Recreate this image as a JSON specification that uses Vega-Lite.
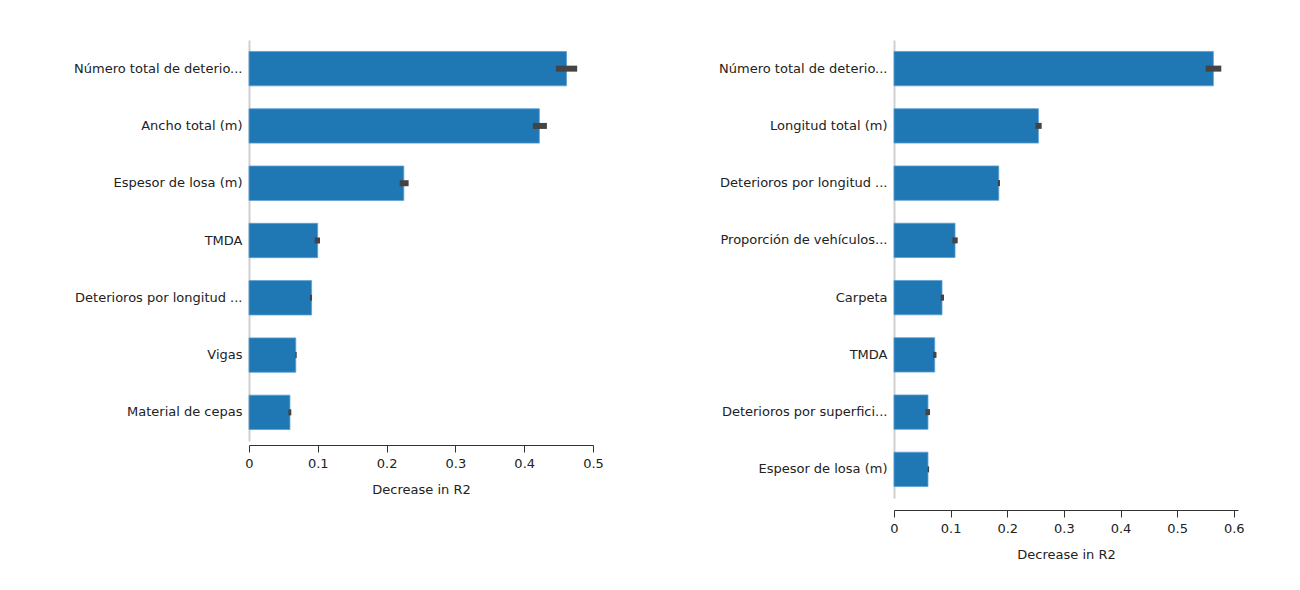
{
  "$schema": "https://vega.github.io/schema/vega-lite/v6.json",
  "background": "white",
  "padding": {"left": 73, "top": 40, "right": 5, "bottom": 5},
  "spacing": 114,
  "datasets": {
    "left": [
      {"feature": "Número total de deterio...", "order": 1, "value": 0.4615, "lo": 0.446, "hi": 0.477},
      {"feature": "Ancho total (m)", "order": 2, "value": 0.422, "lo": 0.4126, "hi": 0.433},
      {"feature": "Espesor de losa (m)", "order": 3, "value": 0.225, "lo": 0.219, "hi": 0.232},
      {"feature": "TMDA", "order": 4, "value": 0.0998, "lo": 0.0954, "hi": 0.1032},
      {"feature": "Deterioros por longitud ...", "order": 5, "value": 0.091, "lo": 0.0885, "hi": 0.0915},
      {"feature": "Vigas", "order": 6, "value": 0.068, "lo": 0.0672, "hi": 0.0693},
      {"feature": "Material de cepas", "order": 7, "value": 0.0595, "lo": 0.0572, "hi": 0.0615}
    ],
    "right": [
      {"feature": "Número total de deterio...", "order": 1, "value": 0.564, "lo": 0.5505, "hi": 0.578},
      {"feature": "Longitud total (m)", "order": 2, "value": 0.255, "lo": 0.2497, "hi": 0.2608},
      {"feature": "Deterioros por longitud ...", "order": 3, "value": 0.185, "lo": 0.1835, "hi": 0.1872},
      {"feature": "Proporción de vehículos...", "order": 4, "value": 0.1078, "lo": 0.103, "hi": 0.1125},
      {"feature": "Carpeta", "order": 5, "value": 0.0848, "lo": 0.0825, "hi": 0.0883},
      {"feature": "TMDA", "order": 6, "value": 0.0719, "lo": 0.069, "hi": 0.075},
      {"feature": "Deterioros por superfici...", "order": 7, "value": 0.060, "lo": 0.0555, "hi": 0.0636},
      {"feature": "Espesor de losa (m)", "order": 8, "value": 0.060, "lo": 0.059, "hi": 0.062}
    ]
  },
  "config": {
    "font": "DejaVu Sans",
    "view": {"stroke": null},
    "axis": {
      "labelFont": "DejaVu Sans",
      "titleFont": "DejaVu Sans",
      "labelFontSize": 13,
      "titleFontSize": 13,
      "titleFontWeight": "normal",
      "labelColor": "#222",
      "titleColor": "#222",
      "grid": false
    },
    "axisY": {
      "ticks": false,
      "labelPadding": 7,
      "domainColor": "#d0d0d0",
      "domainWidth": 2,
      "title": null,
      "labelLimit": 400
    },
    "axisX": {
      "domainColor": "#333",
      "tickColor": "#333",
      "tickSize": 7,
      "labelPadding": 5,
      "titlePadding": 13,
      "labelFlush": false,
      "format": ".1~f"
    }
  },
  "hconcat": [
    {
      "data": {"name": "left"},
      "width": 344,
      "height": 401,
      "encoding": {
        "y": {
          "field": "feature",
          "type": "nominal",
          "sort": {"field": "order", "order": "ascending"},
          "scale": {"paddingInner": 0.4, "paddingOuter": 0.2},
          "axis": {"title": null}
        }
      },
      "layer": [
        {
          "mark": {"type": "bar", "color": "#1f77b4", "stroke": "#5c9fd3", "strokeWidth": 0.8},
          "encoding": {
            "x": {
              "field": "value",
              "type": "quantitative",
              "scale": {"domain": [0, 0.5], "nice": false},
              "axis": {"title": "Decrease in R2", "values": [0, 0.1, 0.2, 0.3, 0.4, 0.5], "offset": 4}
            }
          }
        },
        {
          "mark": {"type": "rule", "color": "#444", "strokeWidth": 6, "strokeCap": "butt"},
          "encoding": {
            "x": {"field": "lo", "type": "quantitative"},
            "x2": {"field": "hi"}
          }
        }
      ]
    },
    {
      "data": {"name": "right"},
      "width": 344,
      "height": 458,
      "encoding": {
        "y": {
          "field": "feature",
          "type": "nominal",
          "sort": {"field": "order", "order": "ascending"},
          "scale": {"paddingInner": 0.4, "paddingOuter": 0.2},
          "axis": {"title": null}
        }
      },
      "layer": [
        {
          "mark": {"type": "bar", "color": "#1f77b4", "stroke": "#5c9fd3", "strokeWidth": 0.8},
          "encoding": {
            "x": {
              "field": "value",
              "type": "quantitative",
              "scale": {"domain": [0, 0.6075], "nice": false},
              "axis": {"title": "Decrease in R2", "values": [0, 0.1, 0.2, 0.3, 0.4, 0.5, 0.6], "offset": 12}
            }
          }
        },
        {
          "mark": {"type": "rule", "color": "#444", "strokeWidth": 6, "strokeCap": "butt"},
          "encoding": {
            "x": {"field": "lo", "type": "quantitative"},
            "x2": {"field": "hi"}
          }
        }
      ]
    }
  ]
}
